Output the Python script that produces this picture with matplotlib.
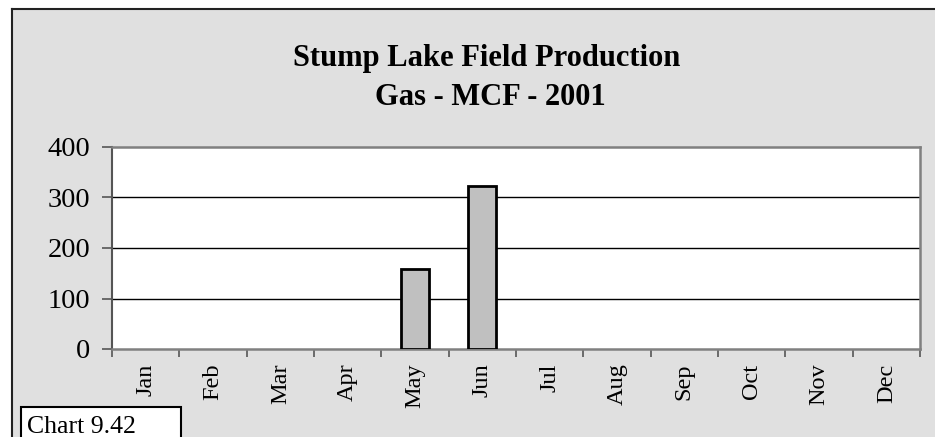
import matplotlib.pyplot as plt
from matplotlib.patches import Rectangle

months = ['Jan', 'Feb', 'Mar', 'Apr', 'May', 'Jun',
          'Jul', 'Aug', 'Sep', 'Oct', 'Nov', 'Dec']
gas_mcf = [0, 0, 0, 0, 159, 323, 0, 0, 0, 0, 0, 0]
y_ticks = [0, 100, 200, 300, 400]
title_lines = ['Stump Lake Field Production', 'Gas - MCF - 2001']
chart_number = 'Chart 9.42'


def main():
    plt.rcParams['font.family'] = ['Liberation Serif', 'DejaVu Serif']
    fig = plt.figure(figsize=(9.35, 4.37), dpi=100, facecolor='white')
    W, H = 935, 437

    # grey panel behind the chart with a black border on top and left
    fig.patches.append(Rectangle((12 / W, 0), 1 - 12 / W, 1 - 9 / H,
                                 transform=fig.transFigure, facecolor='#e0e0e0',
                                 edgecolor='none', zorder=-1))
    fig.add_artist(plt.Line2D([12 / W, 12 / W], [0, 1 - 9 / H], color='#222222',
                              lw=1.5, transform=fig.transFigure))
    fig.add_artist(plt.Line2D([12 / W, 1], [1 - 9 / H, 1 - 9 / H], color='#222222',
                              lw=1.5, transform=fig.transFigure))

    ax = fig.add_axes([112 / W, 1 - 349 / H, (920 - 112) / W, (349 - 147) / H])
    ax.set_facecolor('white')

    # bars only where there was production
    xs = [i + 0.5 for i, v in enumerate(gas_mcf) if v > 0]
    hs = [v for v in gas_mcf if v > 0]
    ax.bar(xs, hs, width=0.42, color='#c0c0c0', edgecolor='black',
           linewidth=2, zorder=3)

    ax.set_xlim(0, 12)
    ax.set_ylim(0, 400)
    ax.set_yticks(y_ticks)
    ax.set_yticklabels([str(t) for t in y_ticks], fontsize=20.5)
    for t in y_ticks[1:-1]:
        ax.axhline(t, color='black', lw=1, zorder=1)

    # ticks on category borders, labels in the middle
    ax.set_xticks(range(13))
    ax.set_xticklabels([])
    ax.set_xticks([i + 0.5 for i in range(12)], minor=True)
    ax.set_xticklabels(months, minor=True, rotation=90, fontsize=17.5)
    ax.tick_params(axis='x', which='major', direction='out', length=6,
                   width=1.2, color='#555555')
    ax.tick_params(axis='x', which='minor', length=0, pad=10.5)
    ax.tick_params(axis='y', direction='out', length=7.5, width=1.2,
                   color='#555555', pad=8)

    for side in ['top', 'right', 'bottom']:
        ax.spines[side].set_color('#808080')
        ax.spines[side].set_linewidth(1.8)
    ax.spines['left'].set_color('#555555')
    ax.spines['left'].set_linewidth(1.5)

    fig.text(487 / W, 1 - 66 / H, title_lines[0], ha='center', va='baseline',
             fontsize=22, fontweight='bold')
    fig.text(490 / W, 1 - 105 / H, title_lines[1], ha='center', va='baseline',
             fontsize=22, fontweight='bold')

    # small caption box in the lower left corner
    fig.patches.append(Rectangle((21 / W, -0.05), 160 / W, 0.05 + 1 - 407 / H,
                                 transform=fig.transFigure, facecolor='white',
                                 edgecolor='black', lw=1.5, zorder=2))
    fig.text(27 / W, 1 - 433 / H, chart_number, ha='left', va='baseline',
             fontsize=18.5, zorder=3)

    fig.savefig('out.png', dpi=100, facecolor='white')


main()
